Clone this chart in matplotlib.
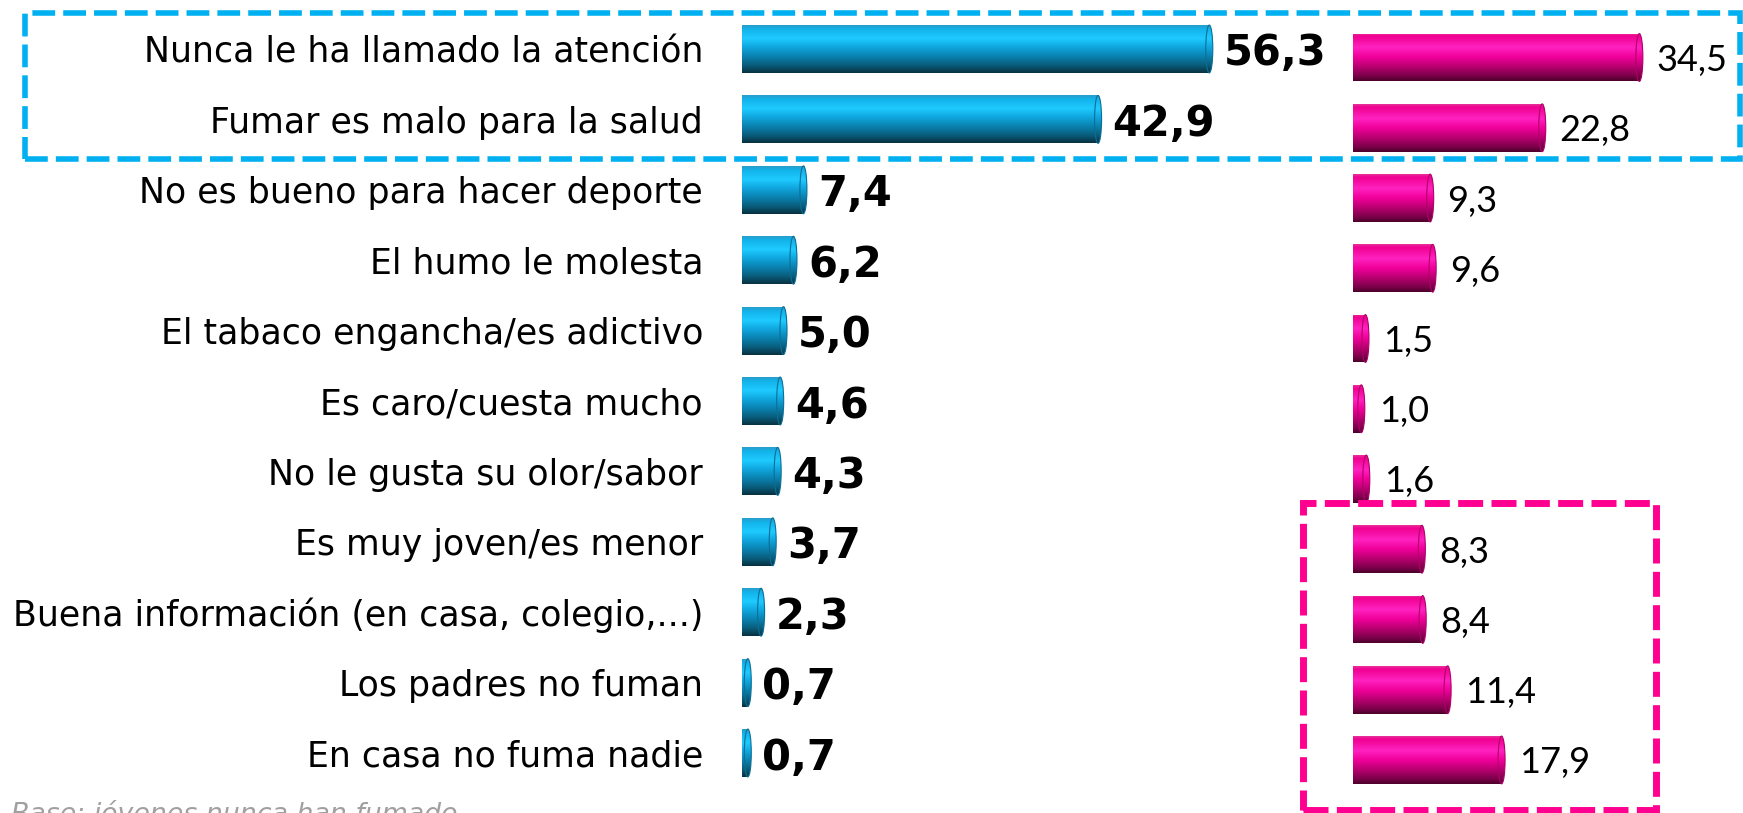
import numpy as np
import matplotlib

matplotlib.use("Agg")
import matplotlib.pyplot as plt
from matplotlib.colors import LinearSegmentedColormap
from matplotlib.patches import Ellipse, Rectangle

# --- data -------------------------------------------------------------
categories = [
    "Nunca le ha llamado la atención",
    "Fumar es malo para la salud",
    "No es bueno para hacer deporte",
    "El humo le molesta",
    "El tabaco engancha/es adictivo",
    "Es caro/cuesta mucho",
    "No le gusta su olor/sabor",
    "Es muy joven/es menor",
    "Buena información (en casa, colegio,...)",
    "Los padres no fuman",
    "En casa no fuma nadie",
]
jovenes = [56.3, 42.9, 7.4, 6.2, 5.0, 4.6, 4.3, 3.7, 2.3, 0.7, 0.7]
padres = [34.5, 22.8, 9.3, 9.6, 1.5, 1.0, 1.6, 8.3, 8.4, 11.4, 17.9]
footnote = "Base: jóvenes nunca han fumado"

W, H = 1743, 813
PX_PER_UNIT = 8.3
BAR_H = 0.68
CAP_W = 7 / PX_PER_UNIT

blue_cmap = LinearSegmentedColormap.from_list(
    "blue_cyl",
    [(0.0, "#2a9cc8"), (0.08, "#12b2ea"), (0.28, "#1ecbff"), (0.45, "#10a8e0"),
     (0.65, "#0a82b0"), (0.85, "#0a5a78"), (1.0, "#073040")],
)
pink_cmap = LinearSegmentedColormap.from_list(
    "pink_cyl",
    [(0.0, "#e8369a"), (0.06, "#f00090"), (0.3, "#ff22c0"), (0.5, "#f0009a"),
     (0.7, "#b80070"), (0.9, "#780048"), (1.0, "#4a0028")],
)


def fig_rect(x0, y0, x1, y1):
    """Pixel box (top-left origin) -> figure fraction [l, b, w, h]."""
    return [x0 / W, 1 - y1 / H, (x1 - x0) / W, (y1 - y0) / H]


def draw_cylinders(ax, values, cmap, rim):
    grad = np.linspace(0, 1, 256).reshape(-1, 1)
    bars = ax.barh(range(len(values)), values, height=BAR_H,
                   color="none", edgecolor="none")
    for bar in bars:
        x0, y0 = bar.get_x(), bar.get_y()
        w, h = bar.get_width(), bar.get_height()
        im = ax.imshow(grad, cmap=cmap, origin="upper", aspect="auto",
                       interpolation="bicubic", extent=(x0, x0 + w, y0 + h, y0))
        im.set_clip_path(bar)
        cap = Ellipse((x0 + w, y0 + h / 2), CAP_W, h, facecolor="none",
                      edgecolor=rim, lw=0.8, zorder=3)
        ax.add_patch(cap)
        im2 = ax.imshow(grad, cmap=cmap, origin="upper", aspect="auto",
                        interpolation="bicubic",
                        extent=(x0 + w - CAP_W / 2, x0 + w + CAP_W / 2, y0 + h, y0))
        im2.set_clip_path(cap)
    return bars


fig = plt.figure(figsize=(W / 100, H / 100), dpi=100)

# left block: blue bars
ax_b = fig.add_axes(fig_rect(742, 13.8, 1342, 788.2))
draw_cylinders(ax_b, jovenes, blue_cmap, "#0c6e96")
for i, v in enumerate(jovenes):
    ax_b.annotate(f"{v:.1f}".replace(".", ","), (v + CAP_W / 2, i),
                  xytext=(8, 0), textcoords="offset points",
                  ha="left", va="center_baseline", fontsize=30,
                  fontweight="bold", family="DejaVu Sans")
ax_b.set_xlim(0, 600 / PX_PER_UNIT)
ax_b.set_ylim(10.5, -0.5)
ax_b.set_yticks(range(len(categories)), categories, fontsize=25)
ax_b.tick_params(left=False, bottom=False, labelbottom=False, pad=24.5)
for s in ax_b.spines.values():
    s.set_visible(False)
ax_b.patch.set_visible(False)

# right block: pink bars
ax_p = fig.add_axes(fig_rect(1353, 22.4, 1743, 795.1))
draw_cylinders(ax_p, padres, pink_cmap, "#b0006a")
for i, v in enumerate(padres):
    ax_p.annotate(f"{v:.1f}".replace(".", ","), (v + CAP_W / 2, i),
                  xytext=(10, 0), textcoords="offset points",
                  ha="left", va="center_baseline", fontsize=26, family="Lato")
ax_p.set_xlim(0, 390 / PX_PER_UNIT)
ax_p.set_ylim(10.5, -0.5)
ax_p.axis("off")

# highlight boxes
for (x0, y0, x1, y1), color, lw, dash in [
    ((25, 13, 1740, 159), "#00b0f0", 4, (4.1, 1.45)),
    ((1303, 503, 1656, 810), "#ff0090", 5, (3.6, 1.2)),
]:
    l, b, w, h = fig_rect(x0, y0, x1, y1)
    fig.add_artist(Rectangle((l, b), w, h, transform=fig.transFigure,
                             fill=False, edgecolor=color, lw=lw,
                             linestyle=(0, dash), zorder=5))

fig.text(11 / W, 1 - 822 / H, footnote, fontsize=19.3, style="italic",
         color="#a0a0a0", va="baseline", ha="left")

fig.savefig("out.png", dpi=100)
